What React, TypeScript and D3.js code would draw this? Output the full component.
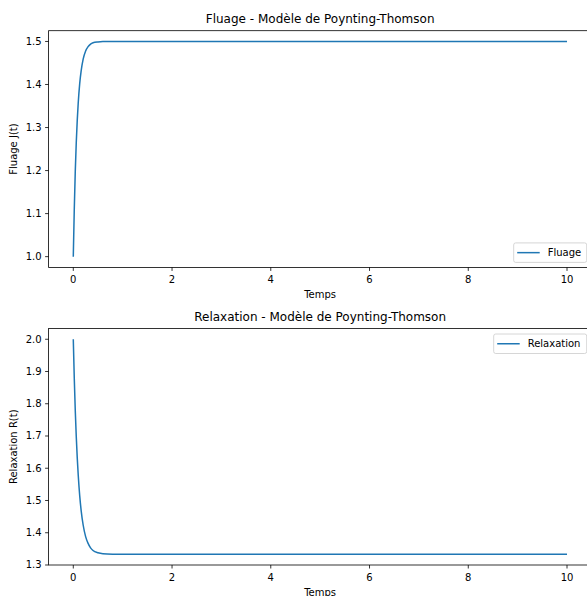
import React from "react";
import * as d3 from "d3";

const W = 587;
const H = 596;

// Time samples (s)
const times = [0, 0.02, 0.04, 0.06, 0.08, 0.1, 0.13, 0.16, 0.2, 0.25, 0.3, 0.35, 0.4, 0.5, 0.6, 0.8, 1, 2, 3, 4, 5, 6, 7, 8, 9, 10];
// Fluage J(t)
const fluage = [1.0, 1.11, 1.197, 1.264, 1.316, 1.357, 1.402, 1.432, 1.459, 1.478, 1.488, 1.494, 1.497, 1.499, 1.4997, 1.5, 1.5, 1.5, 1.5, 1.5, 1.5, 1.5, 1.5, 1.5, 1.5, 1.5];
// Relaxation R(t)
const relaxation = [2.0, 1.879, 1.78, 1.699, 1.633, 1.579, 1.515, 1.468, 1.424, 1.388, 1.367, 1.353, 1.345, 1.338, 1.335, 1.3336, 1.3333, 1.3333, 1.3333, 1.3333, 1.3333, 1.3333, 1.3333, 1.3333, 1.3333, 1.3333];

const xTicks = [0, 2, 4, 6, 8, 10];
const yTicksTop = [1.0, 1.1, 1.2, 1.3, 1.4, 1.5];
const yTicksBottom = [1.3, 1.4, 1.5, 1.6, 1.7, 1.8, 1.9, 2.0];

const FONT = "DejaVu Sans, sans-serif";
const BLUE = "#1f77b4";

type PanelProps = {
  top: number;
  bottom: number;
  values: number[];
  yTicks: number[];
  title: string;
  ylabel: string;
  legend: string;
  legendPos: "lower" | "upper";
  legendW: number;
};

function Panel({ top, bottom, values, yTicks, title, ylabel, legend, legendPos, legendW }: PanelProps) {
  const left = 48.6;
  const right = 591.7;
  const x = d3.scaleLinear().domain([-0.5, 10.5]).range([left, right]);
  const ext = d3.extent(values) as [number, number];
  const pad = (ext[1] - ext[0]) * 0.05;
  const y = d3.scaleLinear().domain([ext[0] - pad, ext[1] + pad]).range([bottom, top]);
  const line = d3
    .line<number>()
    .x((_, i) => x(times[i]))
    .y((d) => y(d))
    .curve(d3.curveMonotoneX);
  const boxH = 19.5;
  const boxX = right - 5 - legendW;
  const boxY = legendPos === "lower" ? bottom - 5 - boxH : top + 5.5;
  const midY = boxY + boxH / 2;
  return (
    <g>
      <path d={line(values) || ""} fill="none" stroke={BLUE} strokeWidth={1.5} />
      {/* spines */}
      <rect x={left} y={top} width={right - left} height={bottom - top} fill="none" stroke="#000" strokeWidth={0.8} />
      {/* x ticks */}
      {xTicks.map((t) => (
        <g key={"x" + t}>
          <line x1={x(t)} x2={x(t)} y1={bottom} y2={bottom + 3.5} stroke="#000" strokeWidth={0.8} />
          <text x={x(t)} y={bottom + 16} textAnchor="middle" fontSize={10} fontFamily={FONT} fill="#000">
            {t}
          </text>
        </g>
      ))}
      {/* y ticks */}
      {yTicks.map((t) => (
        <g key={"y" + t}>
          <line x1={left - 3.5} x2={left} y1={y(t)} y2={y(t)} stroke="#000" strokeWidth={0.8} />
          <text x={left - 7} y={y(t)} dy="0.35em" textAnchor="end" fontSize={10} fontFamily={FONT} fill="#000">
            {t.toFixed(1)}
          </text>
        </g>
      ))}
      <text x={(left + right) / 2} y={top - 7.5} textAnchor="middle" fontSize={12} fontFamily={FONT} fill="#000">
        {title}
      </text>
      <text x={(left + right) / 2} y={bottom + 31} textAnchor="middle" fontSize={10} fontFamily={FONT} fill="#000">
        Temps
      </text>
      <text
        transform={`translate(17,${(top + bottom) / 2}) rotate(-90)`}
        textAnchor="middle"
        fontSize={10}
        fontFamily={FONT}
        fill="#000"
      >
        {ylabel}
      </text>
      {/* legend */}
      <rect x={boxX} y={boxY} width={legendW} height={boxH} rx={2} fill="#fff" fillOpacity={0.8} stroke="#ccc" strokeWidth={0.8} />
      <line x1={boxX + 3.5} x2={boxX + 26} y1={midY} y2={midY} stroke={BLUE} strokeWidth={1.5} />
      <text x={boxX + 34} y={midY} dy="0.35em" fontSize={10} fontFamily={FONT} fill="#000">
        {legend}
      </text>
    </g>
  );
}

export default function App() {
  return (
    <svg
      width={W}
      height={H}
      style={{ position: "absolute", left: 0, top: 0, background: "#fff" }}
    >
      <rect x={0} y={0} width={W} height={H} fill="#fff" />
      <Panel
        top={30.7}
        bottom={267.4}
        values={fluage}
        yTicks={yTicksTop}
        title="Fluage - Modèle de Poynting-Thomson"
        ylabel="Fluage J(t)"
        legend="Fluage"
        legendPos="lower"
        legendW={73}
      />
      <Panel
        top={328.5}
        bottom={565}
        values={relaxation}
        yTicks={yTicksBottom}
        title="Relaxation - Modèle de Poynting-Thomson"
        ylabel="Relaxation R(t)"
        legend="Relaxation"
        legendPos="upper"
        legendW={93}
      />
    </svg>
  );
}
